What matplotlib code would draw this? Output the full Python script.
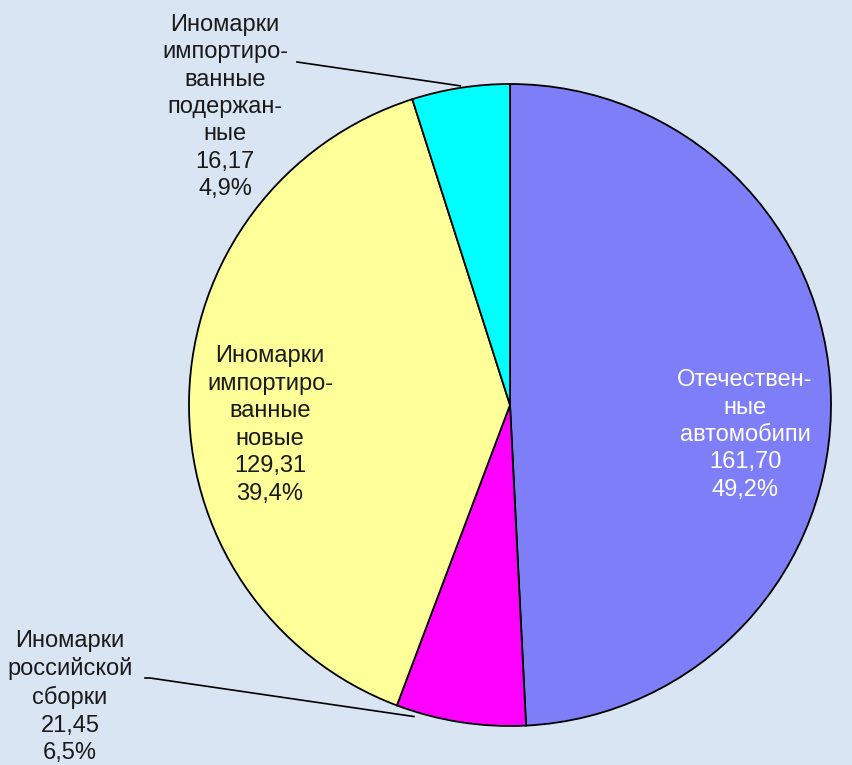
import numpy as np
import matplotlib.pyplot as plt

plt.rcParams['font.family'] = ['Liberation Sans', 'DejaVu Sans']

# данные диаграммы
names = ['Отечествен-\nные\nавтомобипи',
         'Иномарки\nроссийской\nсборки',
         'Иномарки\nимпортиро-\nванные\nновые',
         'Иномарки\nимпортиро-\nванные\nподержан-\nные']
values = [161.70, 21.45, 129.31, 16.17]
shares = ['49,2%', '6,5%', '39,4%', '4,9%']
colors = ['#7e7ef8', '#ff00ff', '#ffff99', '#00ffff']

fig = plt.figure(figsize=(8.53, 7.65), dpi=100)
fig.patch.set_facecolor('#dae5f4')
ax = fig.add_axes([0, 0, 1, 1])

cx, cy, r = 510, 360, 321
wedges, _ = ax.pie(values, colors=colors, startangle=90, counterclock=False,
                   center=(cx, cy), radius=r,
                   wedgeprops=dict(edgecolor='black', linewidth=1.3))
ax.set_xlim(0, 853)
ax.set_ylim(0, 765)
ax.axis('off')

# подписи: позиция и цвет текста
label_pos = [(745, 330), (70, 68), (270, 340), (225, 658)]
label_col = ['white', '#1a1a1a', '#1a1a1a', '#1a1a1a']
for name, v, s, (x, y), c in zip(names, values, shares, label_pos, label_col):
    txt = name + '\n' + f'{v:.2f}'.replace('.', ',') + '\n' + s
    ax.text(x, y, txt, ha='center', va='center', fontsize=17,
            color=c, linespacing=1.32)

# выноски
def edge_point(angle, rr):
    a = np.deg2rad(angle)
    return cx + rr * np.cos(a), cy + rr * np.sin(a)

w = wedges[3]
ex, ey = edge_point((w.theta1 + w.theta2) / 2, r + 2)
ax.plot([297, ex], [703, ey], color='black', lw=1.2)

w = wedges[1]
ex, ey = edge_point(min(w.theta1, w.theta2) + 3.5, r + 5)
ax.plot([145, 150, ex], [87, 87, ey], color='black', lw=1.2)

fig.savefig('out.png', dpi=100, facecolor=fig.get_facecolor())
